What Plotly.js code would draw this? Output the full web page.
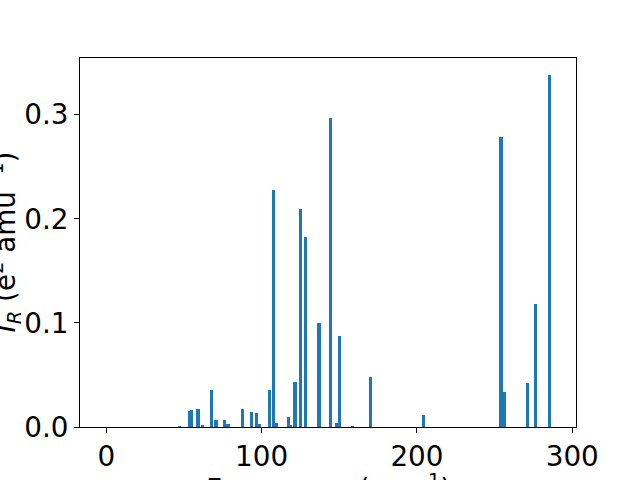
<!DOCTYPE html>
<html>
<head>
<meta charset="utf-8">
<script src="https://cdn.plot.ly/plotly-3.0.1.min.js"></script>
<style>html,body{margin:0;padding:0;background:#fff;}#chart{width:640px;height:480px;}</style>
</head>
<body>
<div id="chart"></div>
<script>
// Mode frequencies (cm^-1)
var frequencies = [47.1, 53.3, 54.6, 58.6, 59.6, 62.2, 67.7, 70.2, 71.0, 76.4, 78.4,
  87.7, 93.5, 96.7, 98.6, 105.0, 107.6, 109.3, 117.3, 118.7, 121.5, 125.0, 128.2,
  136.6, 137.4, 144.3, 148.4, 150.1, 158.5, 170.0, 204.2, 254.1, 256.1, 271.0,
  276.6, 285.6];
// IR intensities
var intensities = [0.001, 0.015, 0.016, 0.017, 0.017, 0.0016, 0.036, 0.0064, 0.0064, 0.0064, 0.0026,
  0.017, 0.014, 0.013, 0.0026, 0.036, 0.2276, 0.0035, 0.0094, 0.0016, 0.043, 0.209, 0.183,
  0.0997, 0.0997, 0.2968, 0.0035, 0.087, 0.001, 0.0478, 0.012, 0.2786, 0.034, 0.042,
  0.118, 0.338];
var yTickVals = [0, 0.1, 0.2, 0.3];
var xTickVals = [0, 100, 200, 300];
var xLabel = 'Frequency (cm<sup>−1</sup>)';
var yLabel = '<i>I</i><sub><i>R</i></sub> (e<sup>2</sup> amu<sup>−1</sup>)';

var font = {family: 'DejaVu Sans', size: 27.8, color: '#000'};

Plotly.newPlot('chart', [{
  type: 'bar',
  x: frequencies,
  y: intensities,
  width: 2,
  marker: {color: '#1f77b4', line: {width: 0}}
}], {
  width: 640, height: 480,
  margin: {l: 80, r: 64, t: 58, b: 53, pad: 0},
  paper_bgcolor: '#fff', plot_bgcolor: '#fff',
  showlegend: false,
  bargap: 0,
  font: font,
  xaxis: {
    range: [-16.9, 302.4],
    tickvals: xTickVals,
    ticks: 'outside', ticklen: 5, tickwidth: 1, tickcolor: '#000',
    showline: true, linecolor: '#000', linewidth: 1, mirror: true,
    showgrid: false, zeroline: false,
    tickfont: font
  },
  yaxis: {
    range: [0, 0.3545],
    tickvals: yTickVals,
    tickformat: '.1f',
    ticks: 'outside', ticklen: 5, tickwidth: 1, tickcolor: '#000',
    showline: true, linecolor: '#000', linewidth: 1, mirror: true,
    showgrid: false, zeroline: false,
    tickfont: font
  },
  annotations: [
    {text: xLabel, xref: 'paper', yref: 'paper', x: 0.5, y: 0,
     xanchor: 'center', yanchor: 'middle', yshift: -60, showarrow: false, font: font},
    {text: yLabel, xref: 'paper', yref: 'paper', x: 0, y: 0.5, textangle: -90,
     xanchor: 'center', yanchor: 'middle', xshift: -74, showarrow: false, font: font}
  ]
}, {displayModeBar: false, staticPlot: true});
</script>
</body>
</html>
